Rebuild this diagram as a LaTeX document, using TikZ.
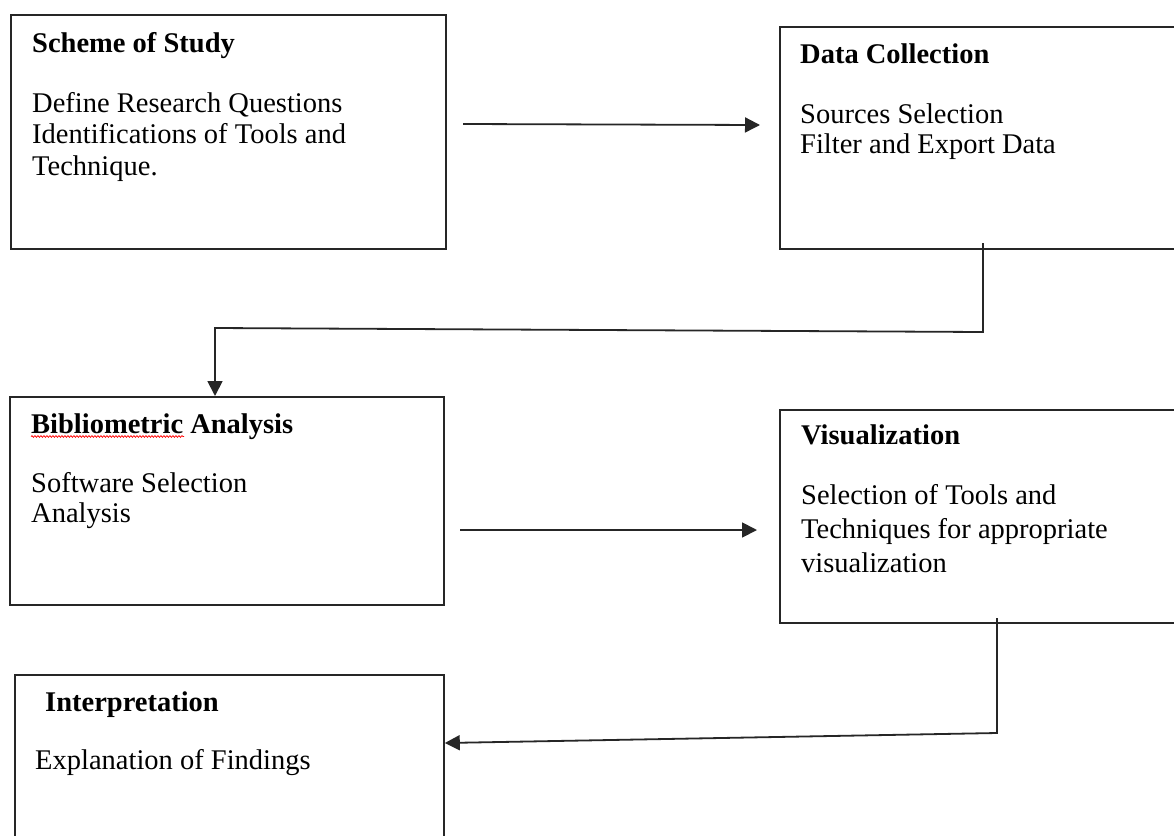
\documentclass[tikz,border=0pt]{standalone}
\usepackage{fontspec}
\setmainfont{Liberation Serif}
\usetikzlibrary{arrows.meta,decorations.pathmorphing}
\begin{document}
\begin{tikzpicture}[x=1pt,y=-1pt,
  box/.style={draw=black!85,line width=1.8pt,rectangle,anchor=north west,inner sep=0pt},
  txt/.style={anchor=base west,inner sep=0pt,font=\fontsize{28.5}{33}\selectfont},
  head/.style={txt,font=\fontsize{28.5}{33}\selectfont\bfseries},
  conn/.style={draw=black!85,line width=1.8pt},
  arr/.style={conn,-{Triangle[length=15pt,width=15pt]}}]
\useasboundingbox (0,0) rectangle (1174,835);
\fill[white] (0,0) rectangle (1174,835);
\clip (0,0) rectangle (1174,835);
% boxes
\node[box,minimum width=435pt,minimum height=234pt] (b1) at (10,14) {};
\node[box,minimum width=411pt,minimum height=222pt] (b2) at (779,26) {};
\node[box,minimum width=434pt,minimum height=208pt] (b3) at (9,396) {};
\node[box,minimum width=411pt,minimum height=213pt] (b4) at (779,409) {};
\node[box,minimum width=429pt,minimum height=180pt] (b5) at (14,674) {};
% texts
\node[head] (t1h) at (32,52) {Scheme of Study};
\node[txt] (t1a) at (32,112) {Define Research Questions};
\node[txt] (t1b) at (32,143) {Identifications of Tools and};
\node[txt] (t1c) at (32,175) {Technique.};
\node[head] (t2h) at (800,63) {Data Collection};
\node[txt] (t2a) at (800,123) {Sources Selection};
\node[txt] (t2b) at (800,153) {Filter and Export Data};
\node[head] (t3h) at (31,433) {Bibliometric Analysis};
\node[txt] (t3a) at (31,492) {Software Selection};
\node[txt] (t3b) at (31,522) {Analysis};
\node[head] (t4h) at (801,444) {Visualization};
\node[txt] (t4a) at (801,504) {Selection of Tools and};
\node[txt] (t4b) at (801,538) {Techniques for appropriate};
\node[txt] (t4c) at (801,572) {visualization};
\node[head] (t5h) at (45,711) {Interpretation};
\node[txt] (t5a) at (35,769) {Explanation of Findings};
% spell-check squiggle
\draw[red,line width=0.7pt,decorate,decoration={snake,amplitude=0.9pt,segment length=3pt}]
  ([yshift=-3.5pt]t3h.base west) -- ([xshift=153pt,yshift=-3.5pt]t3h.base west);
% connector coordinates
\coordinate (a1s) at (463,124);
\coordinate (a1e) at (760,125);
\coordinate (c2a) at (983,243);
\coordinate (c2b) at (983,332);
\coordinate (c2c) at (215,328);
\coordinate (a3s) at (460,530);
\coordinate (a3e) at (757,530);
\coordinate (c4a) at (997,618);
\coordinate (c4b) at (997,733);
% connectors
\draw[arr] (a1s) -- (a1e);
\draw[arr] (c2a) -- (c2b) -- (c2c) -- (c2c |- b3.north);
\draw[arr] (a3s) -- (a3e);
\draw[arr] (c4a) -- (c4b) -- (b5.east |- 0,743);
\end{tikzpicture}
\end{document}
